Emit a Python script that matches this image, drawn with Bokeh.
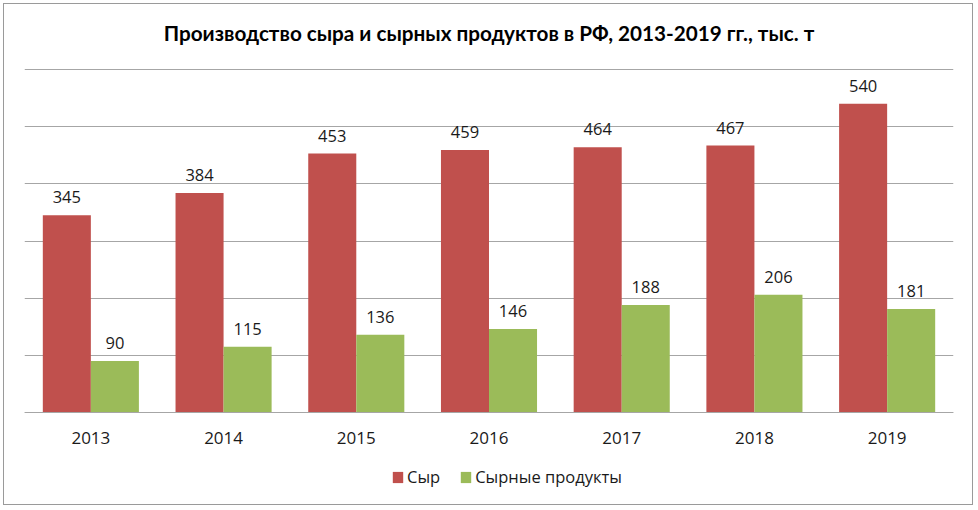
from bokeh.plotting import figure
from bokeh.models import (ColumnDataSource, FactorRange, Range1d, FixedTicker,
                          Legend, LegendItem, Label)
from bokeh.transform import dodge
from bokeh.core.properties import value
from bokeh.embed import file_html
from bokeh.resources import INLINE

# ---- data ----
years = ["2013", "2014", "2015", "2016", "2017", "2018", "2019"]
cheese = [345, 384, 453, 459, 464, 467, 540]
cheese_products = [90, 115, 136, 146, 188, 206, 181]
y_ticks = [0, 100, 200, 300, 400, 500, 600]
title_text = "Производство сыра и сырных продуктов в РФ, 2013-2019 гг., тыс. т"
series_names = ["Сыр", "Сырные продукты"]

RED = "#C0504D"
GREEN = "#9BBB59"
GRID = "#a6a6a6"
FONT = "Open Sans"

src = ColumnDataSource(dict(
    year=years,
    cheese=cheese,
    products=cheese_products,
    cheese_lbl=[str(v) for v in cheese],
    products_lbl=[str(v) for v in cheese_products],
))

# layout: plot area spans 343 px for 0..600; the frame also holds title and legend
H = 502
px_per_unit = 343 / 600.0
y_lo = -(H - 408) / px_per_unit          # space below the zero line
y_hi = y_ticks[-1] + 65 / px_per_unit    # space above the top grid line

p = figure(
    width=970, height=H,
    x_range=FactorRange(factors=years, range_padding=0),
    y_range=Range1d(y_lo, y_hi),
    output_backend="svg", toolbar_location=None,
    min_border_left=20, min_border_right=21,
    min_border_top=0, min_border_bottom=0,
)
p.styles = {"margin": "3px 0 0 3px", "border": "1px solid #9a9a9a"}
p.outline_line_color = None
p.background_fill_color = "white"
p.border_fill_color = "white"

bw = 0.362
r1 = p.vbar(x=dodge("year", -bw / 2, range=p.x_range), top="cheese", width=bw,
            source=src, fill_color=RED, line_color=None)
r2 = p.vbar(x=dodge("year", bw / 2, range=p.x_range), top="products", width=bw,
            source=src, fill_color=GREEN, line_color=None)

for col, lbl, off in (("cheese", "cheese_lbl", -bw / 2), ("products", "products_lbl", bw / 2)):
    p.text(x=dodge("year", off, range=p.x_range), y=col, text=lbl, source=src,
           text_align="center", text_baseline="bottom", y_offset=-12,
           text_font=value(FONT), text_font_size="16.5px", text_color="#1a1a1a")

p.yaxis.visible = False
p.ygrid.ticker = FixedTicker(ticks=y_ticks)
p.ygrid.grid_line_color = GRID
p.ygrid.grid_line_width = 1
p.xgrid.grid_line_color = None

p.xaxis.fixed_location = 0
p.xaxis.axis_line_color = GRID
p.xaxis.major_tick_line_color = None
p.xaxis.minor_tick_line_color = None
p.xaxis.major_label_text_font = FONT
p.xaxis.major_label_text_font_size = "17px"
p.xaxis.major_label_text_color = "#1a1a1a"
p.xaxis.major_label_standoff = 13

title = Label(x=464.5, y=H - 28, x_units="screen", y_units="screen", text=title_text,
              text_align="center", text_baseline="middle",
              text_font="Lato", text_font_size="20.7px", text_font_style="bold",
              text_color="#000000")
p.add_layout(title)

legend = Legend(items=[LegendItem(label=series_names[0], renderers=[r1]),
                       LegendItem(label=series_names[1], renderers=[r2])],
                location=(367, 18), orientation="horizontal",
                glyph_width=13, glyph_height=14, label_standoff=3, spacing=19,
                padding=0, margin=0, border_line_color=None,
                background_fill_alpha=0,
                label_text_font=FONT, label_text_font_size="16.5px",
                label_text_color="#1a1a1a")
p.add_layout(legend)

open("out.html", "w").write(file_html(p, INLINE))
